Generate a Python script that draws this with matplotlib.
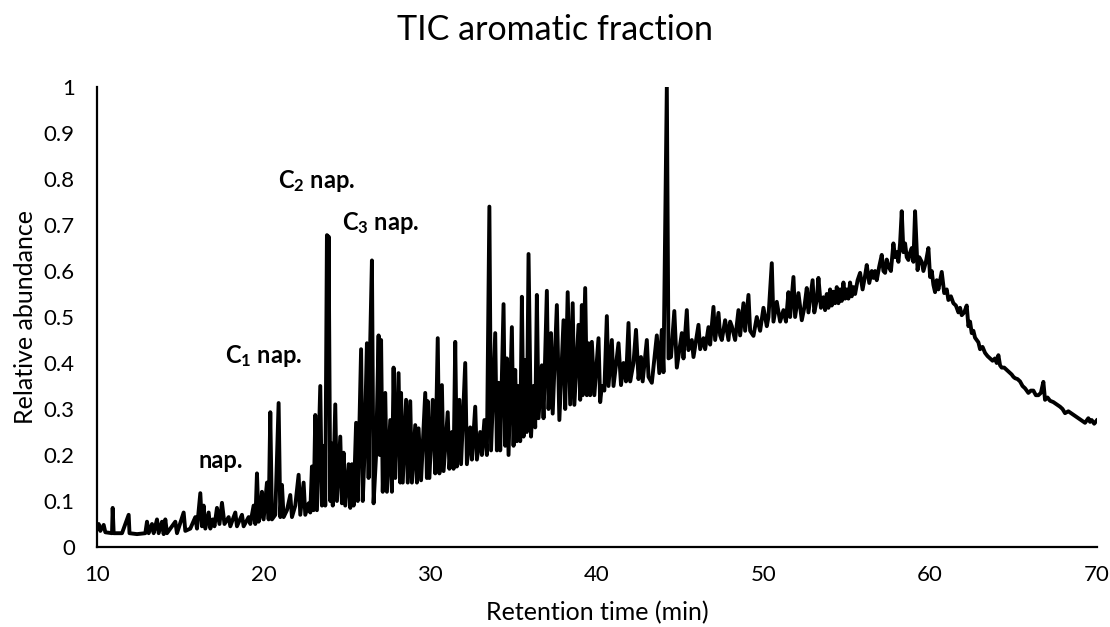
import numpy as np
import matplotlib
matplotlib.use('Agg')
import matplotlib.pyplot as plt

plt.rcParams['font.family'] = ['Lato', 'DejaVu Sans']
plt.rcParams['mathtext.fontset'] = 'custom'
plt.rcParams['mathtext.rm'] = 'Lato'
plt.rcParams['mathtext.bf'] = 'Lato:bold'

## trace (retention time in min, relative abundance), in three pieces
t_early = [10.0, 10.1, 10.2, 10.4, 10.5, 10.9, 10.94, 11.0, 11.5, 11.9, 11.95, 12.4, 12.9, 13.0, 13.1, 13.3,
           13.4, 13.6, 13.7, 13.9, 14.0, 14.1, 14.2, 14.7, 14.8, 15.2, 15.3, 15.6, 15.9, 16.0, 16.2, 16.3,
           16.4, 16.5, 16.7, 16.8, 16.95, 17.05, 17.2, 17.35, 17.5, 17.65, 17.9, 18.0, 18.3, 18.4, 18.7,
           18.8, 19.1, 19.2, 19.4, 19.5, 19.6, 19.7, 19.8, 19.9, 20.0, 20.2, 20.3, 20.4, 20.5, 20.7, 20.9,
           21.0, 21.1, 21.2, 21.4, 21.6, 21.7, 21.9, 22.1, 22.2, 22.4, 22.5, 22.7, 22.8, 22.9, 23.0, 23.1,
           23.2, 23.4, 23.5, 23.6, 23.7, 23.8, 23.85, 23.9, 24.0, 24.05, 24.15, 24.3, 24.4, 24.6, 24.7, 24.8,
           24.9, 25.1, 25.2, 25.3, 25.4, 25.55, 25.65, 25.85, 25.95, 26.05, 26.2, 26.3, 26.4, 26.5, 26.6,
           26.75, 26.9, 26.97, 27.05, 27.15, 27.3, 27.4, 27.6, 27.7, 27.8, 27.9, 28.1, 28.2, 28.25, 28.35,
           28.55, 28.65, 28.8, 28.9, 29.1, 29.2, 29.3, 29.45, 29.7, 29.8, 29.85, 29.95, 30.15, 30.3, 30.45,
           30.55, 30.7, 30.8, 31.05, 31.15, 31.3, 31.4, 31.5, 31.6, 31.75, 31.85, 32.1, 32.2, 32.4, 32.5,
           32.7, 32.8, 33.0, 33.1, 33.25, 33.4]
a_early = [0.04, 0.05, 0.035, 0.048, 0.032, 0.03, 0.085, 0.03, 0.03, 0.07, 0.03, 0.028, 0.03, 0.055, 0.03,
           0.05, 0.03, 0.06, 0.03, 0.055, 0.028, 0.06, 0.03, 0.055, 0.03, 0.075, 0.035, 0.04, 0.065, 0.04,
           0.117, 0.045, 0.09, 0.04, 0.075, 0.04, 0.06, 0.045, 0.085, 0.05, 0.096, 0.05, 0.065, 0.045, 0.075,
           0.045, 0.07, 0.045, 0.065, 0.05, 0.09, 0.05, 0.16, 0.055, 0.07, 0.12, 0.06, 0.14, 0.06, 0.293,
           0.06, 0.07, 0.313, 0.065, 0.135, 0.065, 0.08, 0.113, 0.065, 0.09, 0.157, 0.07, 0.14, 0.07, 0.095,
           0.075, 0.175, 0.08, 0.287, 0.08, 0.35, 0.09, 0.22, 0.09, 0.678, 0.3, 0.675, 0.1, 0.226, 0.09,
           0.31, 0.1, 0.24, 0.095, 0.205, 0.09, 0.18, 0.085, 0.18, 0.09, 0.27, 0.1, 0.43, 0.1, 0.2, 0.443,
           0.15, 0.45, 0.623, 0.095, 0.2, 0.46, 0.2, 0.45, 0.12, 0.335, 0.12, 0.276, 0.12, 0.39, 0.15, 0.378,
           0.14, 0.335, 0.14, 0.32, 0.14, 0.317, 0.14, 0.265, 0.14, 0.258, 0.145, 0.335, 0.15, 0.317, 0.15,
           0.32, 0.16, 0.454, 0.16, 0.352, 0.165, 0.293, 0.17, 0.25, 0.17, 0.446, 0.175, 0.32, 0.18, 0.40,
           0.18, 0.26, 0.19, 0.305, 0.19, 0.25, 0.2, 0.276, 0.2]

t_mid = [33.55, 33.65, 33.9, 34.0, 34.1, 34.2, 34.4, 34.5, 34.6, 34.7, 34.9, 35.0, 35.1, 35.2, 35.3, 35.4,
         35.5, 35.6, 35.7, 35.8, 35.9, 36.05, 36.2, 36.3, 36.4, 36.5, 36.7, 36.8, 37.0, 37.1, 37.25, 37.35,
         37.6, 37.75, 38.0, 38.1, 38.25, 38.4, 38.55, 38.65, 38.9, 39.0, 39.1, 39.15, 39.3, 39.4, 39.5, 39.6,
         39.7, 39.85, 40.1, 40.2, 40.3, 40.45, 40.6, 40.7, 40.9, 41.0, 41.3, 41.45, 41.6, 41.75, 41.9, 42.0,
         42.2, 42.35, 42.5, 42.65, 42.75, 43.0, 43.1, 43.3, 43.6, 43.75, 43.9, 44.0, 44.2, 44.3, 44.45, 44.65,
         44.8, 45.1, 45.2, 45.4, 45.5, 45.7, 45.8, 46.1, 46.2, 46.4, 46.5, 46.7, 46.8, 47.0, 47.1, 47.3, 47.4,
         47.5, 47.7, 47.9, 48.0, 48.1, 48.3, 48.5, 48.6, 48.8, 48.9, 49.1, 49.2, 49.4, 49.6, 49.8, 50.0, 50.2,
         50.3, 50.5, 50.6, 50.8, 51.0, 51.2, 51.35, 51.5, 51.6, 51.8, 51.9, 52.1, 52.3, 52.45, 52.6, 52.7,
         52.95]
a_mid = [0.74, 0.21, 0.465, 0.21, 0.357, 0.21, 0.528, 0.22, 0.41, 0.2, 0.478, 0.22, 0.385, 0.23, 0.35, 0.23,
         0.544, 0.24, 0.406, 0.25, 0.637, 0.24, 0.35, 0.26, 0.548, 0.28, 0.395, 0.28, 0.557, 0.3, 0.465, 0.29,
         0.526, 0.276, 0.493, 0.3, 0.554, 0.31, 0.53, 0.309, 0.483, 0.32, 0.526, 0.33, 0.563, 0.33, 0.443,
         0.33, 0.446, 0.33, 0.454, 0.315, 0.35, 0.34, 0.502, 0.35, 0.45, 0.35, 0.443, 0.352, 0.4, 0.36, 0.487,
         0.36, 0.4, 0.472, 0.365, 0.413, 0.36, 0.45, 0.37, 0.357, 0.46, 0.378, 0.472, 0.38, 1.0, 0.41, 0.413,
         0.513, 0.39, 0.465, 0.41, 0.515, 0.428, 0.45, 0.413, 0.483, 0.43, 0.454, 0.43, 0.478, 0.44, 0.522,
         0.45, 0.509, 0.46, 0.45, 0.493, 0.45, 0.49, 0.48, 0.45, 0.515, 0.46, 0.53, 0.47, 0.548, 0.47, 0.459,
         0.5, 0.47, 0.52, 0.48, 0.5, 0.617, 0.49, 0.533, 0.49, 0.515, 0.49, 0.554, 0.5, 0.587, 0.5, 0.552,
         0.493, 0.52, 0.563, 0.51, 0.58]

t_late = [53.05, 53.2, 53.3, 53.45, 53.6, 53.7, 53.8, 53.9, 54.0, 54.1, 54.2, 54.3, 54.4, 54.5, 54.6, 54.7,
          54.8, 54.9, 55.0, 55.1, 55.2, 55.3, 55.4, 55.5, 55.65, 55.8, 55.95, 56.1, 56.2, 56.35, 56.5, 56.6,
          56.7, 56.8, 56.95, 57.1, 57.2, 57.3, 57.4, 57.5, 57.65, 57.8, 57.9, 58.0, 58.1, 58.2, 58.3, 58.4,
          58.5, 58.6, 58.7, 58.8, 58.9, 59.0, 59.1, 59.25, 59.35, 59.5, 59.6, 59.75, 59.9, 60.0, 60.1, 60.2,
          60.3, 60.4, 60.5, 60.7, 60.85, 61.0, 61.1, 61.25, 61.4, 61.55, 61.7, 61.8, 61.9, 62.05, 62.2, 62.3,
          62.4, 62.5, 62.6, 62.7, 62.8, 62.9, 63.0, 63.15, 63.3, 63.45, 63.6, 63.75, 63.9, 64.0, 64.1, 64.2,
          64.3, 64.45, 64.6, 64.75, 64.9, 65.0, 65.1, 65.25, 65.4, 65.55, 65.7, 65.8, 65.9, 66.05, 66.2, 66.35,
          66.5, 66.65, 66.8, 66.9, 67.05, 67.2, 67.4, 67.6, 67.8, 67.95, 68.1, 68.3, 68.5, 68.7, 68.9, 69.1,
          69.3, 69.5, 69.6, 69.7, 69.85, 70.0]
a_late = [0.51, 0.537, 0.585, 0.52, 0.543, 0.515, 0.55, 0.52, 0.56, 0.525, 0.555, 0.53, 0.565, 0.53, 0.56,
          0.535, 0.575, 0.54, 0.56, 0.54, 0.575, 0.545, 0.565, 0.55, 0.58, 0.596, 0.56, 0.59, 0.613, 0.574,
          0.6, 0.585, 0.6, 0.58, 0.61, 0.635, 0.6, 0.596, 0.625, 0.61, 0.6, 0.66, 0.63, 0.641, 0.62, 0.66,
          0.73, 0.641, 0.66, 0.63, 0.624, 0.64, 0.65, 0.62, 0.73, 0.602, 0.63, 0.62, 0.6, 0.62, 0.65, 0.587,
          0.6, 0.57, 0.554, 0.58, 0.56, 0.598, 0.552, 0.56, 0.537, 0.545, 0.53, 0.525, 0.51, 0.52, 0.504,
          0.51, 0.525, 0.48, 0.49, 0.465, 0.47, 0.455, 0.45, 0.445, 0.43, 0.435, 0.422, 0.415, 0.41, 0.405,
          0.41, 0.4, 0.417, 0.395, 0.39, 0.39, 0.385, 0.38, 0.375, 0.37, 0.367, 0.365, 0.36, 0.35, 0.345,
          0.34, 0.335, 0.34, 0.34, 0.33, 0.33, 0.335, 0.359, 0.32, 0.325, 0.318, 0.315, 0.31, 0.305, 0.3,
          0.291, 0.295, 0.29, 0.285, 0.28, 0.275, 0.27, 0.28, 0.272, 0.276, 0.268, 0.275]

labels = ['nap.', r'$\mathbf{C_1}$ nap.', r'$\mathbf{C_2}$ nap.', r'$\mathbf{C_3}$ nap.']
label_t = [17.4, 20.0, 23.2, 27.0]
label_y = [0.187, 0.415, 0.795, 0.704]

time = t_early + t_mid + t_late
abundance = a_early + a_mid + a_late

fig = plt.figure(figsize=(11.1, 6.27), dpi=100)
ax = fig.add_axes([0.0874, 0.1276, 0.9006, 0.7336])
ax.plot(time, abundance, color='black', lw=2.8)

for s, t, y in zip(labels, label_t, label_y):
    ax.text(t, y, s, ha='center', va='center', fontsize=17, fontweight='bold')

ax.set_xlim(10, 70)
ax.set_ylim(0, 1)
ax.set_xticks(range(10, 71, 10))
yt = np.round(np.arange(0, 1.01, 0.1), 1)
ax.set_yticks(yt)
ax.set_yticklabels(['0' if v == 0 else ('1' if v == 1 else str(v)) for v in yt])
ax.tick_params(length=0, labelsize=16)
ax.tick_params(axis='x', pad=13)
ax.tick_params(axis='y', pad=16)
for s in ['top', 'right']:
    ax.spines[s].set_visible(False)
for s in ['left', 'bottom']:
    ax.spines[s].set_linewidth(1.6)
ax.set_xlabel('Retention time (min)', fontsize=18, va='center')
ax.set_ylabel('Relative abundance', fontsize=18, va='center')
ax.xaxis.set_label_coords(0.5, -0.142)
ax.yaxis.set_label_coords(-0.072, 0.5)
fig.text(0.5, 0.952, 'TIC aromatic fraction', ha='center', va='center', fontsize=24.5)

plt.savefig('out.png')
